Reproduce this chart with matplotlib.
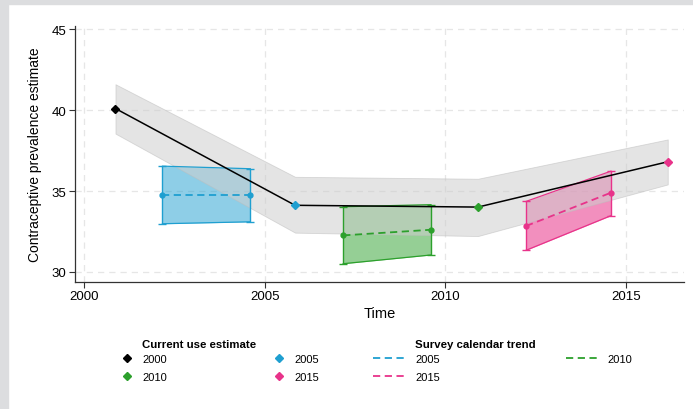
import numpy as np
import matplotlib.pyplot as plt
from matplotlib.lines import Line2D

plt.rcParams['font.family'] = ['Liberation Sans', 'DejaVu Sans']

# current use estimates (black line with band)
cur_labels = ['2000', '2005', '2010', '2015']
cur_x = [2000.87, 2005.84, 2010.90, 2016.15]
cur_y = [40.1, 34.12, 34.01, 36.81]
cur_hi = [41.6, 35.88, 35.76, 38.19]
cur_lo = [38.55, 32.43, 32.22, 35.41]
cur_colors = ['black', '#1f9fd0', '#2ca02c', '#e8338a']

# survey calendar trends (start, end)
trend_labels = ['2005', '2010', '2015']
trend_x = [[2002.17, 2004.60], [2007.17, 2009.60], [2012.23, 2014.58]]
trend_mid = [[34.75, 34.75], [32.26, 32.61], [32.84, 34.90]]
trend_hi = [[36.54, 36.38], [34.03, 34.16], [34.36, 36.23]]
trend_lo = [[32.98, 33.10], [30.51, 31.05], [31.34, 33.48]]
trend_colors = ['#1f9fd0', '#2ca02c', '#e8338a']
trend_alpha = [0.5, 0.5, 0.55]

fig = plt.figure(figsize=(6.93, 4.10), dpi=100)
fig.patch.set_facecolor('white')
# gray frame on top and left
fig.patches.append(plt.Rectangle((0, 1 - 5 / 410), 1, 5 / 410, transform=fig.transFigure,
                                 color='#dcdddf', zorder=0))
fig.patches.append(plt.Rectangle((0, 0), 8 / 693, 1, transform=fig.transFigure,
                                 color='#dcdddf', zorder=0))

ax = fig.add_axes([75 / 693, 1 - 283 / 410, (684 - 75) / 693, (283 - 27) / 410])

for i, c in enumerate(trend_colors):
    ax.fill_between(trend_x[i], trend_lo[i], trend_hi[i], color=c, alpha=trend_alpha[i],
                    lw=0, zorder=1)

# band on top of the box fills, semi-transparent
ax.fill_between(cur_x, cur_lo, cur_hi, facecolor='#cecece', alpha=0.55,
                edgecolor='#bdbdbd', lw=0.6, zorder=2)

for i, c in enumerate(trend_colors):
    xs = trend_x[i]
    ax.plot(xs, trend_hi[i], color=c, lw=0.9, zorder=3)
    ax.plot(xs, trend_lo[i], color=c, lw=0.9, zorder=3)
    for j in range(2):
        ax.errorbar([xs[j]], [trend_mid[i][j]],
                    yerr=[[trend_mid[i][j] - trend_lo[i][j]], [trend_hi[i][j] - trend_mid[i][j]]],
                    fmt='none', ecolor=c, elinewidth=1.0, capsize=3, capthick=1.0, zorder=3)
    ax.plot(xs, trend_mid[i], color=c, lw=1.3, ls=(0, (4, 2.5)), marker='o', ms=3.5, zorder=4)

ax.plot(cur_x, cur_y, color='black', lw=1.1, zorder=5)
for x, y, c in zip(cur_x, cur_y, cur_colors):
    ax.plot([x], [y], marker='D', ms=4.5, color=c, ls='none', zorder=6)

ax.set_xlim(1999.75, 2016.6)
ax.set_ylim(29.38, 45.2)
ax.set_xticks([2000, 2005, 2010, 2015])
ax.set_yticks([30, 35, 40, 45])
ax.grid(True, color='#e6e6e6', ls=(0, (5, 4)), lw=0.9)
ax.set_axisbelow(True)
for s in ['top', 'right']:
    ax.spines[s].set_visible(False)
for s in ['left', 'bottom']:
    ax.spines[s].set_color('#333333')
    ax.spines[s].set_linewidth(0.9)
ax.tick_params(axis='both', labelsize=9.5, length=4, width=0.8, color='#333333', pad=2)
ax.set_xlabel('Time', fontsize=10.5, labelpad=3)
ax.set_ylabel('Contraceptive prevalence estimate', fontsize=10, labelpad=7)

# legends
h_cur = [Line2D([], [], marker='D', ms=4.5, color=c, ls='none') for c in cur_colors]
order = [0, 2, 1, 3]
fig.legend([h_cur[k] for k in order], [cur_labels[k] for k in order], ncol=2,
           loc='upper left', bbox_to_anchor=(121 / 693, 1 - 355 / 410), frameon=False,
           fontsize=8, handlelength=1.0, handletextpad=0.9, columnspacing=9.6,
           labelspacing=0.7, borderpad=0, borderaxespad=0)

h_tr = [Line2D([], [], color=c, lw=1.3, ls=(0, (4, 2.5))) for c in trend_colors]
order2 = [0, 2, 1]
fig.legend([h_tr[k] for k in order2], [trend_labels[k] for k in order2], ncol=2,
           loc='upper left', bbox_to_anchor=(373 / 693, 1 - 355 / 410), frameon=False,
           fontsize=8, handlelength=2.9, handletextpad=0.9, columnspacing=11.3,
           labelspacing=0.7, borderpad=0, borderaxespad=0)

fig.text(142 / 693, 1 - 345 / 410, 'Current use estimate', fontsize=8.2, fontweight='bold',
         va='center', ha='left')
fig.text(415 / 693, 1 - 345 / 410, 'Survey calendar trend', fontsize=8.2, fontweight='bold',
         va='center', ha='left')

fig.savefig('out.png', dpi=100)
